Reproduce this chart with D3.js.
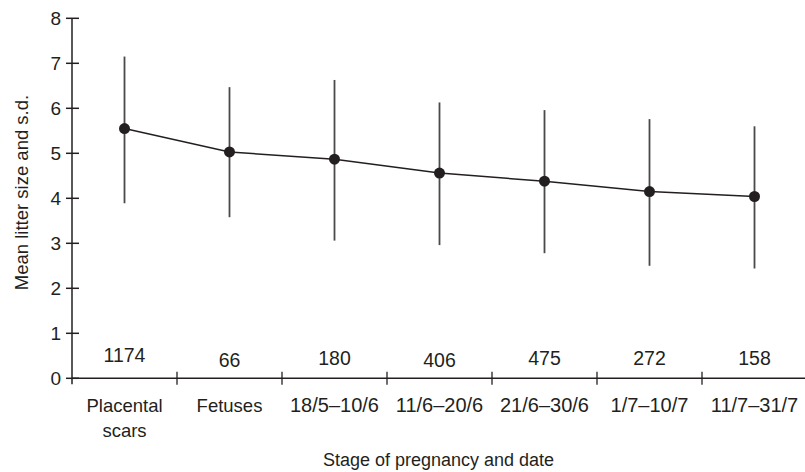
<!DOCTYPE html>
<html>
<head>
<meta charset="utf-8">
<script src="https://cdn.jsdelivr.net/npm/d3@7"></script>
<style>
  html, body { margin: 0; padding: 0; background: #fff; }
  svg { display: block; }
  text { font-family: "Liberation Sans", Arial, Helvetica, sans-serif; fill: #231f20; }
</style>
</head>
<body>
<svg id="chart" width="805" height="472"></svg>
<script>
const categories = [["Placental", "scars"], ["Fetuses"], ["18/5–10/6"], ["11/6–20/6"], ["21/6–30/6"], ["1/7–10/7"], ["11/7–31/7"]];
const categoryKeys = ["Placental scars", "Fetuses", "18/5–10/6", "11/6–20/6", "21/6–30/6", "1/7–10/7", "11/7–31/7"];
const meanValues = [5.55, 5.03, 4.87, 4.56, 4.38, 4.15, 4.04];
const upperValues = [7.15, 6.47, 6.63, 6.13, 5.96, 5.76, 5.60];
const lowerValues = [3.89, 3.58, 3.06, 2.96, 2.78, 2.50, 2.44];
const counts = ["1174", "66", "180", "406", "475", "272", "158"];
const countOffsets = [-3, 2, 0, 2, 0, 0, 0];
const yTicks = [0, 1, 2, 3, 4, 5, 6, 7, 8];

const svg = d3.select("#chart");
const ink = "#231f20";

const x = d3.scaleBand().domain(categoryKeys).range([72, 807]).padding(0);
const y = d3.scaleLinear().domain([0, 8]).range([378.3, 18.3]);
const cx = k => x(k) + x.bandwidth() / 2;

// axes lines
svg.append("line").attr("x1", 72).attr("x2", 72).attr("y1", y(8)).attr("y2", y(0) + 6)
  .attr("stroke", ink).attr("stroke-width", 1.5);
svg.append("line").attr("x1", 72).attr("x2", 805).attr("y1", y(0)).attr("y2", y(0))
  .attr("stroke", ink).attr("stroke-width", 1.5);

// y ticks
const yg = svg.append("g");
yg.selectAll("line").data(yTicks).join("line")
  .attr("x1", 66).attr("x2", 79)
  .attr("y1", d => y(d)).attr("y2", d => y(d))
  .attr("stroke", ink).attr("stroke-width", 1.5);
yg.selectAll("text").data(yTicks).join("text")
  .attr("x", 61).attr("y", d => y(d)).attr("dy", "0.36em")
  .attr("text-anchor", "end").attr("font-size", 19)
  .text(d => d);

// x ticks at band boundaries
svg.append("g").selectAll("line").data(categoryKeys.slice(1)).join("line")
  .attr("x1", d => x(d)).attr("x2", d => x(d))
  .attr("y1", y(0) - 6.5).attr("y2", y(0) + 6.5)
  .attr("stroke", ink).attr("stroke-width", 1.3);

// category labels
const cl = svg.append("g");
categories.forEach((lines, i) => {
  const isDate = /\d/.test(lines[0]);
  const t = cl.append("text").attr("text-anchor", "middle").attr("font-size", isDate ? 20 : 18.5)
    .attr("x", cx(categoryKeys[i])).attr("y", 412);
  lines.forEach((ln, j) => {
    t.append("tspan").attr("x", cx(categoryKeys[i])).attr("dy", j === 0 ? 0 : 24.5).text(ln);
  });
});

// counts
svg.append("g").selectAll("text").data(counts).join("text")
  .attr("x", (d, i) => cx(categoryKeys[i]))
  .attr("y", (d, i) => 365 + countOffsets[i])
  .attr("text-anchor", "middle").attr("font-size", 19.5)
  .text(d => d);

// error bars
svg.append("g").selectAll("line").data(categoryKeys).join("line")
  .attr("x1", d => cx(d)).attr("x2", d => cx(d))
  .attr("y1", (d, i) => y(upperValues[i])).attr("y2", (d, i) => y(lowerValues[i]))
  .attr("stroke", "#4a4a4a").attr("stroke-width", 1.8);

// mean line
const line = d3.line().x((d, i) => cx(categoryKeys[i])).y(d => y(d));
svg.append("path").datum(meanValues).attr("d", line)
  .attr("fill", "none").attr("stroke", ink).attr("stroke-width", 1.5);

// points
svg.append("g").selectAll("circle").data(meanValues).join("circle")
  .attr("cx", (d, i) => cx(categoryKeys[i])).attr("cy", d => y(d))
  .attr("r", 5.5).attr("fill", ink);

// axis titles
svg.append("text").attr("x", 438.5).attr("y", 465.5).attr("text-anchor", "middle")
  .attr("font-size", 18).text("Stage of pregnancy and date");
svg.append("text").attr("transform", "translate(28,192.5) rotate(-90)")
  .attr("text-anchor", "middle").attr("font-size", 18.5)
  .text("Mean litter size and s.d.");
</script>
</body>
</html>
